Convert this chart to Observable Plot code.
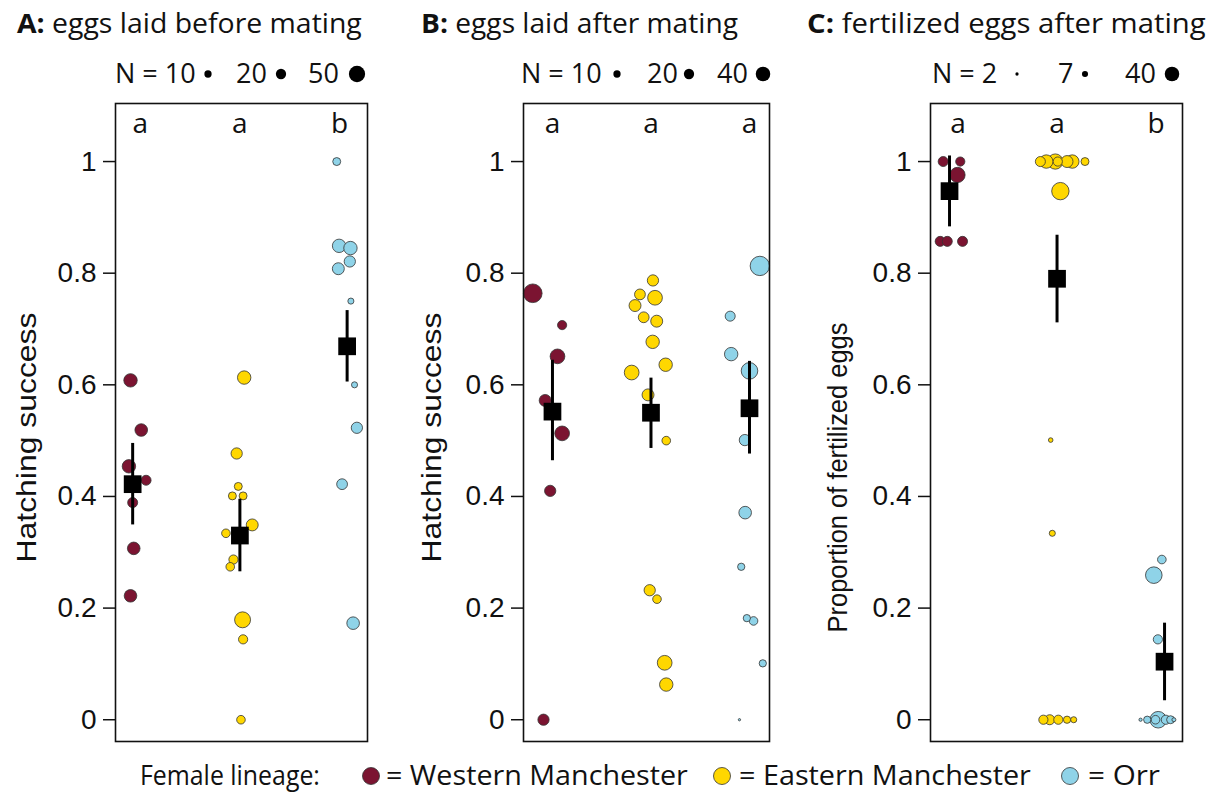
<!DOCTYPE html>
<html><head><meta charset="utf-8">
<script src="https://cdn.jsdelivr.net/npm/d3@7"></script>
<script src="https://cdn.jsdelivr.net/npm/@observablehq/plot@0.6"></script>
<style>
html,body{margin:0;padding:0;background:#fff;}
#root{position:relative;width:1220px;height:794px;overflow:hidden;background:#fff;}
#root > svg{position:absolute;}
</style></head><body><div id="root"></div>
<script>
// ---------- shared ----------
const lineages = ["Western Manchester", "Eastern Manchester", "Orr"];
const lineageColors = ["#7b1431", "#ffd700", "#8fd3e8"];
const columns = [1, 2, 3];
const yTicks = [0, 0.2, 0.4, 0.6, 0.8, 1];
const legendTitle = "Female lineage:";

// ---------- Panel A: eggs laid before mating ----------
const aTitleBold = "A:";
const aTitle = " eggs laid before mating";
const aYLabel = "Hatching success";
const aLetters = ["a", "a", "b"];
const aSizes = [10, 20, 50];
const aWestVal = [0.608, 0.519, 0.454, 0.429, 0.389, 0.307, 0.222];
const aWestJit = [-0.02, 0.08, -0.035, 0.125, 0.0, 0.01, -0.02];
const aWestN   = [34, 30, 34, 19, 19, 30, 30];
const aEastVal = [0.613, 0.477, 0.418, 0.401, 0.401, 0.349, 0.334, 0.287, 0.274, 0.179, 0.144, 0.0];
const aEastJit = [0.04, -0.03, -0.015, -0.07, 0.03, 0.115, -0.13, -0.06, -0.09, 0.025, 0.03, 0.01];
const aEastN   = [34, 24, 12, 12, 12, 27, 14, 16, 14, 48, 16, 14];
const aOrrVal  = [1.0, 0.849, 0.845, 0.808, 0.821, 0.75, 0.60, 0.523, 0.422, 0.173];
const aOrrJit  = [-0.097, -0.075, 0.031, -0.082, 0.025, 0.035, 0.069, 0.091, -0.047, 0.056];
const aOrrN    = [12, 34, 34, 27, 24, 7, 7, 24, 22, 30];
const aMean = [0.422, 0.330, 0.669];
const aLow  = [0.349, 0.265, 0.605];
const aHigh = [0.495, 0.395, 0.733];

// ---------- Panel B: eggs laid after mating ----------
const bTitleBold = "B:";
const bTitle = " eggs laid after mating";
const bYLabel = "Hatching success";
const bLetters = ["a", "a", "a"];
const bSizes = [10, 20, 40];
const bWestVal = [0.764, 0.707, 0.651, 0.572, 0.513, 0.410, 0.0];
const bWestJit = [-0.2, 0.098, 0.051, -0.074, 0.098, -0.023, -0.091];
const bWestN   = [66, 16, 41, 27, 41, 24, 24];
const bEastVal = [0.787, 0.762, 0.756, 0.742, 0.721, 0.714, 0.677, 0.636, 0.622, 0.582, 0.500, 0.232, 0.216, 0.102, 0.063];
const bEastJit = [0.02, -0.112, 0.041, -0.162, -0.074, 0.058, 0.017, 0.149, -0.196, -0.03, 0.155, -0.013, 0.061, 0.139, 0.155];
const bEastN   = [24, 22, 41, 27, 22, 27, 34, 34, 41, 27, 14, 24, 14, 41, 34];
const bOrrVal  = [0.813, 0.723, 0.655, 0.625, 0.501, 0.371, 0.274, 0.182, 0.177, 0.101, 0.0];
const bOrrJit  = [0.105, -0.196, -0.186, 0.0, -0.047, -0.044, -0.084, -0.027, 0.041, 0.135, -0.102];
const bOrrN    = [71, 19, 34, 52, 24, 30, 10, 10, 14, 10, 1];
const bMean = [0.552, 0.550, 0.558];
const bLow  = [0.464, 0.486, 0.476];
const bHigh = [0.644, 0.612, 0.642];

// ---------- Panel C: fertilized eggs after mating ----------
const cTitleBold = "C:";
const cTitle = " fertilized eggs after mating";
const cYLabel = "Proportion of fertilized eggs";
const cLetters = ["a", "a", "b"];
const cSizes = [2, 7, 40];
const cWestVal = [1.0, 1.0, 0.976, 0.857, 0.857, 0.857];
const cWestJit = [-0.059, 0.1, 0.074, -0.087, -0.021, 0.121];
const cWestN   = [19, 16, 44, 19, 19, 19];
const cEastVal = [1, 1, 1, 1, 1, 1, 1, 0.947, 0.501, 0.334, 0, 0, 0, 0, 0];
const cEastJit = [-0.155, -0.1, -0.016, 0.007, 0.093, 0.142, 0.26, 0.031, -0.059, -0.044, -0.127, -0.068, 0.012, 0.093, 0.155];
const cEastN   = [19, 34, 44, 16, 27, 34, 12, 57, 4, 7, 16, 19, 16, 10, 7];
const cOrrVal  = [0.287, 0.259, 0.144, 0, 0, 0, 0, 0, 0, 0];
const cOrrJit  = [-0.025, -0.1, -0.062, -0.059, -0.223, -0.161, -0.084, 0.012, 0.056, 0.087];
const cOrrN    = [14, 52, 16, 52, 2, 10, 14, 16, 12, 3];
const cMean = [0.947, 0.790, 0.104];
const cLow  = [0.883, 0.711, 0.034];
const cHigh = [1.01, 0.868, 0.173];

// ---------- build tables ----------
function pointsTable(groups) {
  const rows = [];
  groups.forEach(([vals, jits, ns], gi) => {
    vals.forEach((v, i) => rows.push({col: columns[gi], jit: jits[i], v, n: ns[i], lin: lineages[gi]}));
  });
  return rows;
}
function meansTable(m, lo, hi) {
  return columns.map((c, i) => ({col: c, m: m[i], lo: lo[i], hi: hi[i]}));
}

const panels = [
  {left: 0, width: 380, marginLeft: 115, marginRight: 13, xDomain: [0.84, 3.19], letterSpread: 0.93,
   yLabel: aYLabel, labelDx: -88, labelDy: 15, labelLen: 250, letters: aLetters,
   points: pointsTable([[aWestVal, aWestJit, aWestN], [aEastVal, aEastJit, aEastN], [aOrrVal, aOrrJit, aOrrN]]),
   means: meansTable(aMean, aLow, aHigh)},
  {left: 400, width: 390, marginLeft: 123, marginRight: 21, xDomain: [0.706, 3.203], letterSpread: 1,
   yLabel: bYLabel, labelDx: -91, labelDy: 15, labelLen: 250, letters: bLetters,
   points: pointsTable([[bWestVal, bWestJit, bWestN], [bEastVal, bEastJit, bEastN], [bOrrVal, bOrrJit, bOrrN]]),
   means: meansTable(bMean, bLow, bHigh)},
  {left: 800, width: 420, marginLeft: 130, marginRight: 38, xDomain: [0.823, 3.167], letterSpread: 0.92,
   yLabel: cYLabel, labelDx: -92, labelDy: 55, labelLen: 310, letters: cLetters,
   points: pointsTable([[cWestVal, cWestJit, cWestN], [cEastVal, cEastJit, cEastN], [cOrrVal, cOrrJit, cOrrN]]),
   means: meansTable(cMean, cLow, cHigh)}
];

const rDomain = [0, 100], rRange = [0, 11.5];
const rScale = d3.scaleSqrt().domain(rDomain).range(rRange);
const fmt = d => String(+(+d).toFixed(1));

const root = document.getElementById("root");

panels.forEach(p => {
  const svg = Plot.plot({
    width: p.width, height: 660,
    marginLeft: p.marginLeft, marginRight: p.marginRight, marginTop: 13, marginBottom: 9,
    x: {domain: p.xDomain, axis: null},
    y: {domain: [-0.039, 1.104], axis: null},
    r: {type: "sqrt", domain: rDomain, range: rRange},
    color: {domain: lineages, range: lineageColors},
    style: {fontFamily: "'Liberation Sans', Arial, sans-serif", fontSize: "28px", color: "#111", background: "transparent", overflow: "visible"},
    marks: [
      Plot.axisY({ticks: yTicks, tickFormat: fmt, tickSize: 12, tickPadding: 7, strokeWidth: 1.5, label: null, fontSize: 28}),
      Plot.text(p.letters, {x: (d, i) => 2 + (columns[i] - 2) * p.letterSpread, text: d => d, frameAnchor: "top",
        lineAnchor: "middle", dy: 21, fontFamily: "'Open Sans', sans-serif", fontSize: 28}),
      Plot.dot(p.points, {x: d => d.col + d.jit, y: "v", r: "n", fill: "lin", stroke: "#333", strokeWidth: 0.8}),
      Plot.ruleX(p.means, {x: "col", y1: "lo", y2: "hi", stroke: "black", strokeWidth: 3}),
      Plot.dot(p.means, {x: "col", y: "m", symbol: "square", r: 10, fill: "black"}),
      Plot.text([p.yLabel], {frameAnchor: "left", textAnchor: "middle", lineAnchor: "middle", rotate: -90,
        dx: p.labelDx, dy: p.labelDy, text: d => d, fontSize: 28}),
      Plot.frame({stroke: "#111", strokeWidth: 1.6})
    ]
  });
  svg.style.position = "absolute";
  svg.style.left = p.left + "px";
  svg.style.top = "90px";
  root.appendChild(svg);
  svg.querySelectorAll("text").forEach(t => {
    if (t.textContent === p.yLabel) {
      t.setAttribute("textLength", p.labelLen);
      t.setAttribute("lengthAdjust", "spacingAndGlyphs");
    }
  });
});

// overlay (titles, size legends, lineage legend)
const overlay = d3.select(root).append("svg")
  .attr("width", 1220).attr("height", 794)
  .style("left", "0px").style("top", "0px")
  .style("font-family", "'Open Sans', sans-serif").style("fill", "#111");

// place a text starting at x with baseline y, horizontally scaled to a target width
function fitText(x, y, size, width, build) {
  const g = overlay.append("g");
  const t = g.append("text").attr("x", 0).attr("y", 0).attr("font-size", size);
  build(t);
  const natural = t.node().getComputedTextLength();
  const s = natural > 0 ? width / natural : 1;
  g.attr("transform", `translate(${x},${y}) scale(${s},1)`);
  return g;
}

// titles
const titles = [[aTitleBold, aTitle, 17, 345], [bTitleBold, bTitle, 421, 317], [cTitleBold, cTitle, 807, 399]];
titles.forEach(([b, t, x, len]) => {
  fitText(x, 33, 27, len, tx => {
    tx.append("tspan").attr("font-weight", "bold").text(b);
    tx.append("tspan").text(t);
  });
});

// size legends
const sizeLegends = [
  {sizes: aSizes, textX: [115, 236, 308], dotX: [208, 281, 357]},
  {sizes: bSizes, textX: [521, 647, 717], dotX: [617, 689, 763]},
  {sizes: cSizes, textX: [932, 1058, 1125], dotX: [1017, 1085, 1172]}
];
sizeLegends.forEach(s => {
  s.sizes.forEach((n, i) => {
    overlay.append("text").attr("x", s.textX[i]).attr("y", 83).attr("font-size", 27)
      .text((i === 0 ? "N = " : "") + n);
    overlay.append("circle").attr("cx", s.dotX[i]).attr("cy", 74).attr("r", rScale(n)).attr("fill", "#000");
  });
});

// lineage legend
const legendBaseline = 785;
fitText(140, legendBaseline, 28, 180, t => t.text(legendTitle));
const legItems = [[371, 386, 302], [722, 739, 292], [1070, 1088, 72]];
lineages.forEach((name, i) => {
  const [cx, tx, len] = legItems[i];
  overlay.append("circle").attr("cx", cx).attr("cy", 776).attr("r", 8.5)
    .attr("fill", lineageColors[i]).attr("stroke", "#333").attr("stroke-width", 0.8);
  fitText(tx, legendBaseline, 28, len, t => t.text("= " + name));
});
</script></body></html>
